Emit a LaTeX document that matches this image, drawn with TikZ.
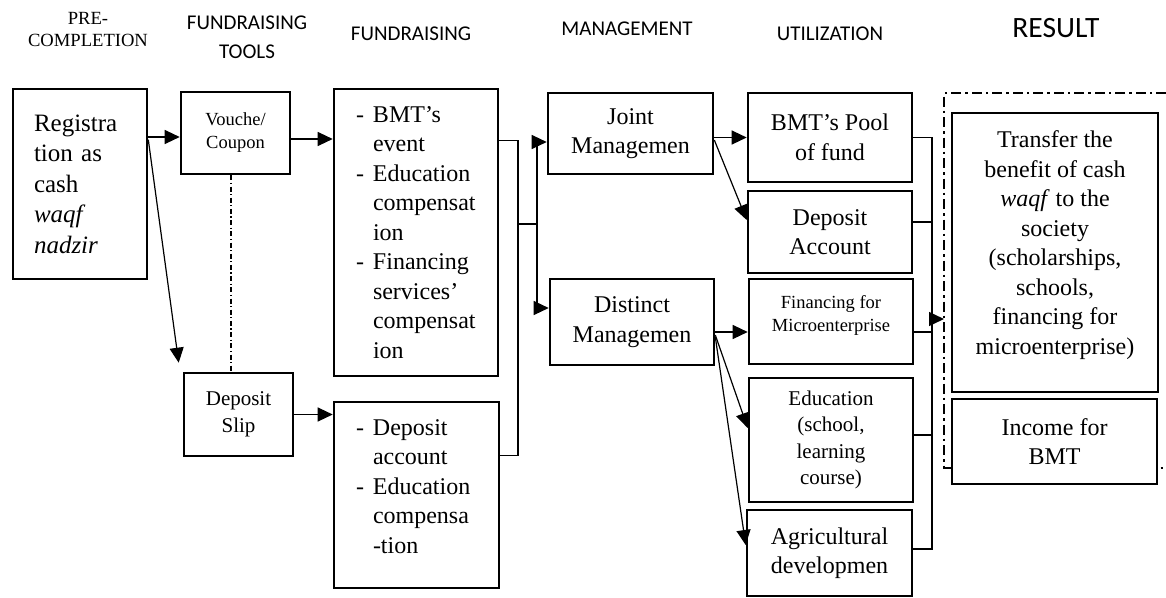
\documentclass[tikz,border=0pt]{standalone}
\usepackage{fontspec}
\setmainfont{Liberation Serif}
\newfontfamily\calibri{Carlito}
\usetikzlibrary{arrows.meta}

\newcommand\bigtxt{\fontsize{24}{29.5}\selectfont}
\newcommand\midtxt{\fontsize{21}{26.5}\selectfont}
\newcommand\smalltxt{\fontsize{18.5}{23}\selectfont}
\newcommand\headtxt{\calibri\fontsize{21}{29}\selectfont}
\newcommand\li{\makebox[17pt][l]{-}}
\newcommand\ind{\hspace*{17pt}}

\begin{document}
\begin{tikzpicture}[x=1pt,y=-1pt,
  box/.style={draw, line width=2.6pt, fill=white, align=center, inner sep=0pt, font=\bigtxt},
  head/.style={align=center, inner sep=0pt, font=\headtxt},
  link/.style={line width=1.2pt},
  arr/.style={link, -{Triangle[length=15pt,width=14pt]}},
  frame/.style={line width=2.6pt, dash pattern=on 10pt off 4pt on 2.5pt off 4pt}]
  \useasboundingbox (0,0) rectangle (1166,597);

  \node[head, font=\fontsize{18.6}{22}\selectfont] (hpre) at (88,30) {PRE-\\COMPLETION};
  \node[head] (htools) at (247,37.5) {FUNDRAISING\\TOOLS};
  \node[head] (hfund) at (411,34) {FUNDRAISING};
  \node[head] (hman) at (627,29) {MANAGEMENT};
  \node[head] (hutil) at (830,34) {UTILIZATION};
  \node[head, font=\calibri\fontsize{29.5}{34}\selectfont] (hres) at (1056,28) {RESULT};

  \draw[frame] (1166,93) -- (944,93) -- (944,468) -- (1166,468);
  \coordinate (frameIn) at (944,319);

  \node[box, align=left, text width=92pt, inner xsep=21pt, minimum height=190pt,
    font=\fontsize{25}{30.5}\selectfont] (reg) at (80,184)
    {Registra\\tion as\\cash\\\textit{waqf}\\\textit{nadzir}};
  \node[box, minimum width=109pt, minimum height=82pt, font=\smalltxt] (vouch) at (235.5,133) {Vouche/\\Coupon};
  \node[box, minimum width=109pt, minimum height=83pt, font=\midtxt] (slip) at (238.5,414.5) {Deposit\\Slip};

  \node[box, align=left, text width=120pt, inner xsep=22pt, minimum height=287pt] (fundA) at (416,232.5)
    {\li BMT’s\\\ind event\\\li Education\\\ind compensat\\\ind ion\\\li Financing\\\ind services’\\\ind compensat\\\ind ion};
  \node[box, align=left, text width=121pt, inner xsep=22pt, minimum height=186pt] (fundB) at (416.5,495)
    {\li Deposit\\\ind account\\\li Education\\\ind compensa\\\ind -tion\\[-12pt]\mbox{}};

  \node[box, minimum width=165pt, minimum height=81pt] (joint) at (630.5,133.5) {Joint\\Managemen};
  \node[box, minimum width=164pt, minimum height=86pt] (distinct) at (632,322) {Distinct\\Managemen};

  \node[box, minimum width=164pt, minimum height=89pt] (pool) at (830,137.5) {BMT’s Pool\\of fund};
  \node[box, minimum width=164pt, minimum height=82pt] (depacc) at (830,232) {Deposit\\Account};
  \node[box, minimum width=164pt, minimum height=85pt, font=\smalltxt] (micro) at (831,321.5) {Financing for\\Microenterprise\\[-7pt]\mbox{}};
  \node[box, minimum width=164pt, minimum height=124pt, font=\midtxt] (edu) at (831,440) {Education\\(school,\\learning\\course)};
  \node[box, minimum width=165pt, minimum height=86pt] (agri) at (829.5,553) {Agricultural\\developmen};

  \node[box, minimum width=206pt, minimum height=279pt] (transfer) at (1055,252.5)
    {Transfer the\\benefit of cash\\\textit{waqf} to the\\society\\(scholarships,\\schools,\\financing for\\microenterprise)\\[-10pt]\mbox{}};
  \node[box, minimum width=205pt, minimum height=85pt] (income) at (1054.5,441.5) {Income for\\BMT};

  \coordinate (vin) at ([yshift=-4pt]vouch.west);
  \draw[arr] (reg.east |- vin) -- (vin);
  \draw[arr] ([yshift=-52pt]reg.north east) -- ([xshift=-4pt,yshift=9pt]slip.north west);
  \draw[link, dash pattern=on 5pt off 2.5pt on 1.2pt off 2.5pt] ([xshift=-4.5pt]vouch.south) -- ([xshift=-4.5pt]vouch.south |- slip.north);
  \draw[arr] ([yshift=-6pt]vouch.east) -- ([yshift=-6pt]vouch.east -| fundA.west);
  \draw[arr] (slip.east) -- (slip.east -| fundB.west);

  \coordinate (fa) at ([yshift=-53pt]fundA.north east);
  \coordinate (fb) at ([yshift=-55pt]fundB.north east);
  \coordinate (fm) at (518,224);
  \coordinate (mbar) at (537,224);
  \draw[link] (fa) -| (fm) |- (fb);
  \draw[link] (fm) -- (mbar);
  \draw[arr] (mbar) |- ([yshift=-8.5pt]joint.west);
  \draw[arr] (mbar) |- ([yshift=14pt]distinct.west);

  \draw[arr] ([yshift=-4pt]joint.east) -- ([yshift=-4pt]joint.east -| pool.west);
  \draw[arr] ([yshift=-6.5pt]joint.east) -- ([yshift=12pt]depacc.west);
  \draw[arr] ([yshift=-10pt]distinct.east) -- ([yshift=-10pt]distinct.east -| micro.west);
  \draw[arr] ([yshift=-13pt]distinct.east) -- ([yshift=12pt]edu.west);
  \draw[arr] ([yshift=-15pt]distinct.east) -- ([yshift=8pt]agri.west);

  \coordinate (ubar) at (932,0);
  \coordinate (agriR) at ([yshift=4pt]agri.east);
  \draw[link] (pool.east) -| (ubar |- agriR) -- (agriR);
  \foreach \n/\dy in {depacc/10, micro/-10.5, edu/5}
    \draw[link] ([yshift=\dy pt]\n.east) -- ([yshift=\dy pt]\n.east -| ubar);
  \draw[arr] (ubar |- frameIn) -- (frameIn);
\end{tikzpicture}
\end{document}
